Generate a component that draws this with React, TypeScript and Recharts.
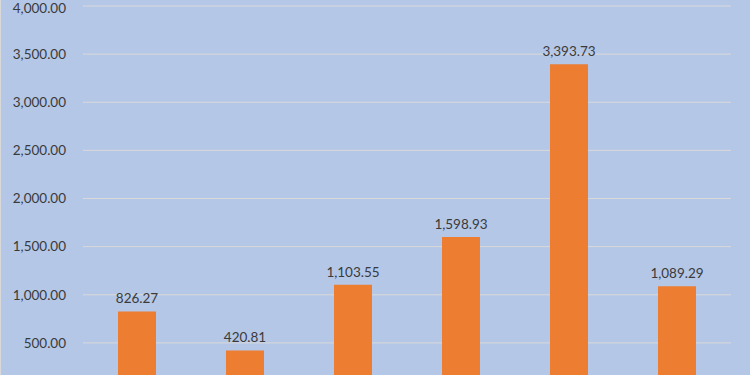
import { Bar, BarChart, CartesianGrid, LabelList, XAxis, YAxis } from 'recharts';

// categories sit below the visible crop, so names are placeholders
const categories = ['Category 1', 'Category 2', 'Category 3', 'Category 4', 'Category 5', 'Category 6'];
const values = [826.27, 420.81, 1103.55, 1598.93, 3393.73, 1089.29];
// the 0 line falls just under the visible crop
const yTicks = [500, 1000, 1500, 2000, 2500, 3000, 3500, 4000];

const data = categories.map((name, i) => ({ name, value: values[i] }));

const fmt = (v: number) =>
  Number(v).toLocaleString('en-US', { minimumFractionDigits: 2, maximumFractionDigits: 2 });

const textStyle = { fill: '#3A3A3A', fontSize: 13.5, fontFamily: 'Lato, "Open Sans", sans-serif' };

const App = () => {
  return (
    <div
      style={{
        position: 'absolute',
        top: 0,
        left: 0,
        width: 750,
        height: 375,
        overflow: 'hidden',
        background: '#B4C7E7',
        boxShadow: 'inset 1px 0 0 #D9D9D9',
      }}
    >
      <BarChart
        width={750}
        height={400}
        data={data}
        margin={{ top: 6, right: 19, bottom: 9, left: 0 }}
        barCategoryGap={35}
      >
        <CartesianGrid vertical={false} stroke='#D9D9D9' strokeWidth={1} />
        <XAxis dataKey='name' hide />
        <YAxis
          width={83}
          domain={[0, 4000]}
          ticks={yTicks}
          tickFormatter={fmt}
          axisLine={false}
          tickLine={false}
          tickSize={6}
          tickMargin={11}
          tick={textStyle}
        />
        <Bar dataKey='value' fill='#ED7D31' isAnimationActive={false}>
          <LabelList dataKey='value' position='top' offset={8} formatter={fmt} style={textStyle} />
        </Bar>
      </BarChart>
    </div>
  );
};

export default App;
